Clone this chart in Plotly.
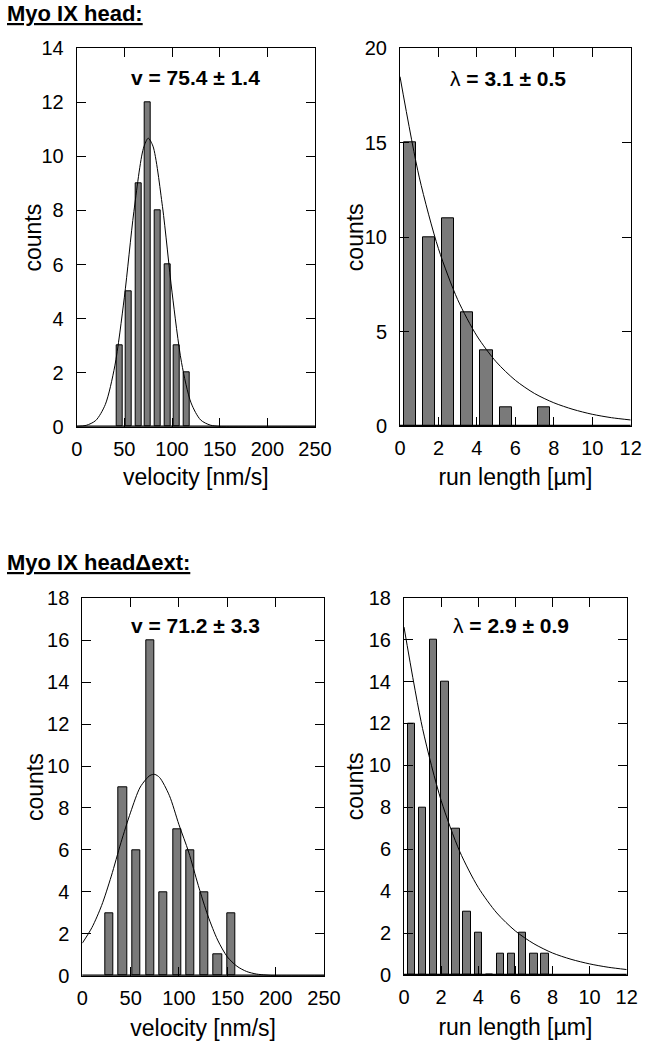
import plotly.graph_objects as go

# ---------- data ----------
# Myo IX head: velocity histogram
vel1_centers = [45, 55, 65, 75, 85, 95, 105, 115]
vel1_counts = [3, 5, 9, 12, 8, 6, 3, 2]
# Gaussian fit curve
vel1_fit_x = [0, 10, 20, 30, 40, 50, 60, 70, 75, 80, 90, 100, 110, 120, 130, 140, 150, 160, 250]
vel1_fit_y = [0.01, 0.05, 0.23, 0.82, 2.25, 4.79, 7.96, 10.3, 10.67, 10.38, 8.14, 4.98, 2.37, 0.88, 0.25, 0.06, 0.01, 0, 0]

# Myo IX head: run length histogram
run1_centers = [0.5, 1.5, 2.5, 3.5, 4.5, 5.5, 6.5, 7.5]
run1_counts = [15, 10, 11, 6, 4, 1, 0, 1]
run1_fit_x = [0, 1, 2, 3, 4, 5, 6, 7, 8, 9, 10, 11, 12]
run1_fit_y = [18.5, 13.18, 9.39, 6.69, 4.77, 3.40, 2.42, 1.72, 1.23, 0.88, 0.62, 0.44, 0.32]

# Myo IX head-delta-ext: velocity histogram
vel2_centers = [28, 42, 56, 70, 84, 98, 112, 126, 140, 154]
vel2_counts = [3, 9, 6, 16, 4, 7, 6, 4, 1, 3]
vel2_fit_x = [0, 10, 20, 30, 40, 50, 60, 70, 75, 80, 90, 100, 110, 120, 130, 140, 150, 160, 170, 180, 190, 200, 250]
vel2_fit_y = [1.55, 2.3, 3.35, 4.75, 6.35, 7.8, 9.0, 9.55, 9.6, 9.45, 8.6, 7.2, 5.9, 4.3, 2.85, 1.7, 0.9, 0.45, 0.2, 0.08, 0.03, 0, 0]

# Myo IX head-delta-ext: run length histogram
run2_centers = [0.4, 1.0, 1.6, 2.2, 2.8, 3.4, 4.0, 4.6, 5.2, 5.8, 6.4, 7.0, 7.6]
run2_counts = [12, 8, 16, 14, 7, 3, 2, 0, 1, 1, 2, 1, 1]
run2_fit_x = [0, 1, 2, 3, 4, 5, 6, 7, 8, 9, 10, 11, 12]
run2_fit_y = [16.6, 11.76, 8.33, 5.90, 4.18, 2.96, 2.10, 1.49, 1.05, 0.75, 0.53, 0.37, 0.26]

vel_ticks = [0, 50, 100, 150, 200, 250]
run_ticks = [0, 2, 4, 6, 8, 10, 12]

titles = ["<b><u>Myo IX head:</u></b>", "<b><u>Myo IX head\u0394ext:</u></b>"]
fit_labels = ["<b>v = 75.4 \u00b1 1.4</b>", "\u03bb<b> = 3.1 \u00b1 0.5</b>",
              "<b>v = 71.2 \u00b1 3.3</b>", "\u03bb<b> = 2.9 \u00b1 0.9</b>"]
y_title = "counts"

FONT = "Liberation Sans, Arial, Helvetica, sans-serif"
BAR_COLOR = "#7a7a7a"

W, H = 648, 1049

def px_dom_x(a, b):
    return [a / W, b / W]

def px_dom_y(top, bottom):
    return [1 - bottom / H, 1 - top / H]

panels = [
    dict(cx=vel1_centers, cy=vel1_counts, w=6.3, fx=vel1_fit_x, fy=vel1_fit_y,
         xr=[0, 250], xt=vel_ticks, yr=[0, 14], dt=2, xtitle="velocity [nm/s]", xst=10,
         dx=px_dom_x(76.7, 315), dy=px_dom_y(48.3, 426.7), lab=fit_labels[0], ly=0.924, lx=0.5,
         ytx=33),
    dict(cx=run1_centers, cy=run1_counts, w=0.63, fx=run1_fit_x, fy=run1_fit_y,
         xr=[0, 12], xt=run_ticks, yr=[0, 20], dt=5, xtitle="run length [\u00b5m]", xst=10,
         dx=px_dom_x(400, 630.7), dy=px_dom_y(48.3, 426), lab=fit_labels[1], ly=0.921, lx=0.47,
         ytx=355),
    dict(cx=vel2_centers, cy=vel2_counts, w=8.6, fx=vel2_fit_x, fy=vel2_fit_y,
         xr=[0, 250], xt=vel_ticks, yr=[0, 18], dt=2, xtitle="velocity [nm/s]", xst=12,
         dx=px_dom_x(82.3, 324), dy=px_dom_y(598.3, 975.7), lab=fit_labels[2], ly=0.929, lx=0.47,
         ytx=35),
    dict(cx=run2_centers, cy=run2_counts, w=0.4, fx=run2_fit_x, fy=run2_fit_y,
         xr=[0, 12], xt=run_ticks, yr=[0, 18], dt=2, xtitle="run length [\u00b5m]", xst=11,
         dx=px_dom_x(404, 626.7), dy=px_dom_y(597.7, 975), lab=fit_labels[3], ly=0.925, lx=0.48,
         ytx=355),
]

fig = go.Figure()
annotations = []
shapes = []
layout_axes = {}

for i, p in enumerate(panels, start=1):
    xa = "x" if i == 1 else f"x{i}"
    ya = "y" if i == 1 else f"y{i}"
    fig.add_trace(go.Bar(x=p["cx"], y=p["cy"], width=p["w"], xaxis=xa, yaxis=ya,
                         marker=dict(color=BAR_COLOR, line=dict(color="black", width=1)),
                         showlegend=False, hoverinfo="x+y"))
    fig.add_trace(go.Scatter(x=p["fx"], y=p["fy"], mode="lines", xaxis=xa, yaxis=ya,
                             line=dict(color="black", width=1, shape="spline", smoothing=0.8),
                             showlegend=False, cliponaxis=True))
    xkey = "xaxis" if i == 1 else f"xaxis{i}"
    ykey = "yaxis" if i == 1 else f"yaxis{i}"
    layout_axes[xkey] = dict(
        domain=p["dx"], anchor=ya, range=p["xr"], tickvals=p["xt"], automargin=False,
        ticks="inside", ticklen=9, tickwidth=1, tickcolor="black",
        showline=True, linecolor="black", linewidth=1, mirror="ticks",
        showgrid=False, zeroline=False, fixedrange=True,
        tickfont=dict(family=FONT, size=20, color="black"), ticklabelstandoff=4,
        title=dict(text=p["xtitle"], font=dict(family=FONT, size=23, color="black"), standoff=p["xst"]),
    )
    layout_axes[ykey] = dict(
        domain=p["dy"], anchor=xa, range=p["yr"], dtick=p["dt"], tick0=0, automargin=False,
        ticks="inside", ticklen=9, tickwidth=1, tickcolor="black",
        showline=True, linecolor="black", linewidth=1, mirror="ticks",
        showgrid=False, zeroline=False, fixedrange=True,
        tickfont=dict(family=FONT, size=20, color="black"), ticklabelstandoff=8,
    )
    # thicker baseline along the x axis
    shapes.append(dict(type="line", xref=f"{xa} domain", yref=ya, x0=0, x1=1, y0=0, y1=0,
                       line=dict(color="black", width=2.5), layer="above"))
    annotations.append(dict(text=p["lab"], xref=f"{xa} domain", yref=f"{ya} domain",
                            x=p["lx"], y=p["ly"], xanchor="center", yanchor="middle",
                            showarrow=False, font=dict(family=FONT, size=21, color="black")))
    # y-axis title, rotated, centred on the plot area
    annotations.append(dict(text=y_title, xref="paper", yref=f"{ya} domain",
                            x=p["ytx"] / W, y=0.5, xanchor="center", yanchor="middle",
                            textangle=-90, showarrow=False,
                            font=dict(family=FONT, size=23, color="black")))

annotations.append(dict(text=titles[0], xref="paper", yref="paper", x=5 / W, y=1 - 14 / H,
                        xanchor="left", yanchor="middle", showarrow=False,
                        font=dict(family=FONT, size=22, color="black")))
annotations.append(dict(text=titles[1], xref="paper", yref="paper", x=5 / W, y=1 - 562 / H,
                        xanchor="left", yanchor="middle", showarrow=False,
                        font=dict(family=FONT, size=22, color="black")))

fig.update_layout(
    width=W, height=H, margin=dict(l=0, r=0, t=0, b=0, pad=0, autoexpand=False),
    paper_bgcolor="white", plot_bgcolor="white",
    bargap=0, barmode="overlay",
    annotations=annotations, shapes=shapes,
    **layout_axes,
)

fig.write_html("out.html", config={"responsive": False, "displayModeBar": False},
               post_script="document.body.style.margin='0';document.body.style.padding='0';")
